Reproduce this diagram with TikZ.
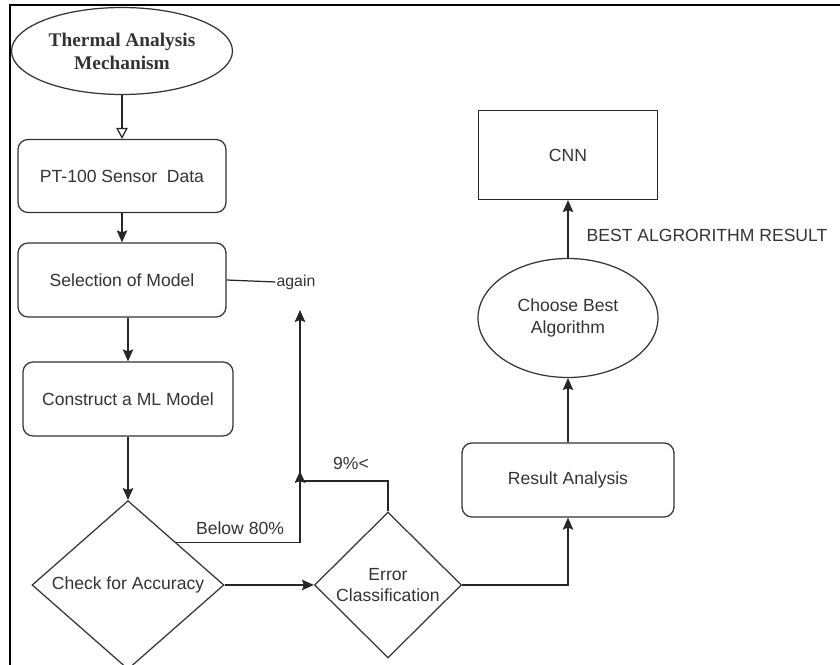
\documentclass[tikz,border=0pt]{standalone}
\usepackage{fontspec}
\setmainfont{Liberation Sans}
\newfontfamily\titlefont{Liberation Serif}
\usetikzlibrary{shapes.geometric, arrows.meta}
\tikzset{every node/.style={font=\fontsize{10}{12}\selectfont, text=black!80},
         stage/.style={draw=black!80, line width=0.7pt, rounded corners=2mm, minimum width=4.16cm, minimum height=1.46cm, align=center},
         result/.style={draw=black!85, line width=0.7pt, minimum width=3.58cm, minimum height=1.78cm},
         oval/.style={draw=black!80, line width=0.7pt, ellipse, inner sep=0pt, align=center},
         check/.style={draw=black!80, line width=0.7pt, diamond, inner sep=0pt, align=center},
         flow/.style={line width=0.7pt, draw=black!85, -{Stealth[length=2.4mm,width=2.1mm,inset=0.4mm]}},
         hollow/.style={line width=0.7pt, draw=black!85, -{Triangle[open,length=2.2mm,width=2.3mm,fill=white]}}}

\begin{document}
\begin{tikzpicture}[x=0.02cm, y=-0.02cm]
        \useasboundingbox (0,0) rectangle (840,665);
        \draw[line width=1.3pt] (10,665) -- (10,5) -- (840,5);

        \node[oval, minimum width=4.42cm, minimum height=1.74cm, font=\titlefont\bfseries\fontsize{11}{13}\selectfont](thermal)at(122,51){Thermal Analysis\\Mechanism};
        \node[stage](sensor)at(122,176){PT-100 Sensor\ \ Data};
        \node[stage, minimum height=1.48cm](model)at(122,280){Selection of Model};
        \node[stage, minimum width=4.2cm, minimum height=1.48cm](build)at(128,399){Construct a ML Model};
        \node[check, minimum width=3.84cm, minimum height=3.2cm](accuracy)at(128,585){Check for Accuracy};
        \node[check, minimum width=2.94cm, minimum height=2.92cm](error)at(388,585){Error\\Classification};

        \node[stage, minimum width=4.24cm, minimum height=1.48cm](analysis)at(568,480){Result Analysis};
        \node[oval, minimum width=3.6cm, minimum height=2.38cm](choose)at(568,318){Choose Best\\Algorithm};
        \node[result](cnn)at(568,155){CNN};

        \node[inner sep=0.5pt, font=\fontsize{9}{11}\selectfont](again)at(296,282){again};
        \node(below)at(240,528){Below 80\%};
        \node(above)at(351,463){9\%<};
        \node(best)at(707,235){BEST ALGRORITHM RESULT};

        \coordinate(loop)at(300,310);
        \coordinate(bend)at(388,481);
        \coordinate(merge)at(300,471);

        \draw[hollow](thermal)--(sensor);
        \draw[flow](sensor)--(model);
        \draw[flow](model.south -| build)--(build);
        \draw[flow](build)--(accuracy);
        \draw[line width=0.7pt, draw=black!85](model.east)--(again.west);

        \draw[flow](accuracy.north east)-|(loop);
        \draw[flow](error.north)--(bend)-|(merge);
        \draw[flow](accuracy.east)--(error.west);
        \draw[flow](error.east)-|(analysis.south);
        \draw[flow](analysis)--(choose);
        \draw[flow](choose)--(cnn);
\end{tikzpicture}
\end{document}
